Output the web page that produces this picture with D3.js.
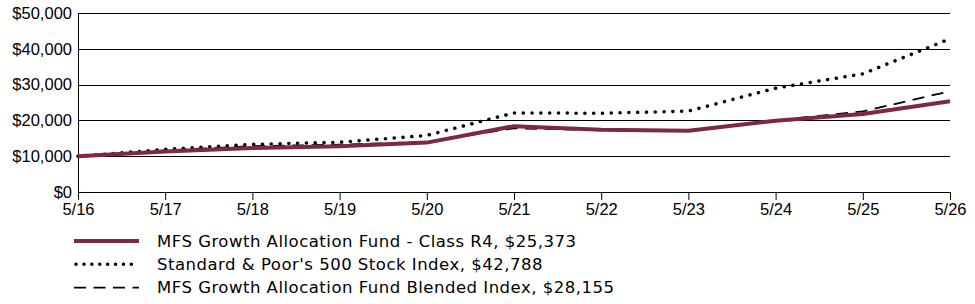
<!DOCTYPE html>
<html>
<head>
<meta charset="utf-8">
<script src="https://cdn.jsdelivr.net/npm/d3@7"></script>
<style>
  body { margin: 0; background: #fff; }
  svg { display: block; font-family: "DejaVu Sans", Verdana, sans-serif; }
  .axis text { font-size: 16.5px; fill: #000; }
  .axis path, .axis line { stroke: #000; }
  .legend text { font-size: 16.5px; letter-spacing: 0.5px; fill: #000; }
</style>
</head>
<body>
<svg id="chart"></svg>
<script>
const years = ["5/16", "5/17", "5/18", "5/19", "5/20", "5/21", "5/22", "5/23", "5/24", "5/25", "5/26"];
const fundValues = [10000, 11300, 12300, 12800, 13800, 18400, 17400, 17100, 19900, 21800, 25373];
const spValues = [10000, 11900, 13300, 13900, 15800, 22100, 22000, 22600, 29000, 33000, 42788];
const blendedValues = [10000, 11600, 12800, 13200, 14000, 17800, 17300, 17000, 20000, 22500, 28155];
const yTicks = [0, 10000, 20000, 30000, 40000, 50000];

const series = [
  { name: "MFS Growth Allocation Fund - Class R4, $25,373", values: fundValues, color: "#7c2b3f", width: 4, dash: null },
  { name: "Standard & Poor's 500 Stock Index, $42,788", values: spValues, color: "#000", width: 3.5, dash: "0.1 8.7" },
  { name: "MFS Growth Allocation Fund Blended Index, $28,155", values: blendedValues, color: "#000", width: 1.8, dash: "12 7.5" }
];

const chartSize = { width: 975, height: 304 };
const margin = { left: 78, right: 25, top: 13, bottom: 112 };
const width = chartSize.width - margin.left - margin.right;
const height = chartSize.height - margin.top - margin.bottom;

const isDotted = s => s.dash && s.dash.startsWith("0.1");

const svg = d3.select("#chart")
  .attr("width", chartSize.width)
  .attr("height", chartSize.height);

const g = svg.append("g").attr("transform", `translate(${margin.left},${margin.top})`);

const x = d3.scalePoint().domain(years).range([0, width]);
const y = d3.scaleLinear().domain([0, 50000]).range([height, 0]);

// gridlines
g.append("g")
  .selectAll("line")
  .data(yTicks.filter(d => d > 0))
  .enter()
  .append("line")
  .attr("x1", 0)
  .attr("x2", width)
  .attr("y1", d => Math.round(y(d)) + 0.5)
  .attr("y2", d => Math.round(y(d)) + 0.5)
  .attr("stroke", "#000")
  .attr("stroke-width", 1);

const yAxis = g.append("g")
  .attr("class", "y axis")
  .call(d3.axisLeft(y).tickValues(yTicks).tickSize(0).tickPadding(6).tickFormat(d => "$" + d3.format(",")(d)));
yAxis.select(".domain").remove();
g.append("line")
  .attr("x1", 0.5).attr("x2", 0.5)
  .attr("y1", 0).attr("y2", height)
  .attr("stroke", "#000");

const xAxis = g.append("g")
  .attr("class", "x axis")
  .attr("transform", `translate(0,${height})`)
  .call(d3.axisBottom(x).tickSize(8).tickPadding(3));
xAxis.select(".domain").attr("d", `M0.5,0.5H${width}`);

const line = d3.line()
  .x((d, i) => x(years[i]))
  .y(d => y(d));

g.selectAll(".series")
  .data(series.slice().reverse())
  .enter()
  .append("path")
  .attr("class", "series")
  .attr("fill", "none")
  .attr("stroke", s => s.color)
  .attr("stroke-width", s => s.width)
  .attr("stroke-dasharray", s => s.dash)
  .attr("stroke-linecap", s => isDotted(s) ? "round" : "butt")
  .attr("stroke-linejoin", "round")
  .attr("d", s => line(s.values));

const legend = svg.append("g")
  .attr("class", "legend")
  .attr("transform", "translate(74,241)");

const rows = legend.selectAll("g")
  .data(series)
  .enter()
  .append("g")
  .attr("transform", (s, i) => `translate(0,${i * 23.3})`);

rows.append("line")
  .attr("x1", s => isDotted(s) ? 2 : 0)
  .attr("x2", 65)
  .attr("y1", 0).attr("y2", 0)
  .attr("stroke", s => s.color)
  .attr("stroke-width", s => s.width)
  .attr("stroke-dasharray", s => isDotted(s) ? "0.1 7.8" : s.dash)
  .attr("stroke-linecap", s => isDotted(s) ? "round" : "butt");

rows.append("text")
  .attr("x", 83)
  .attr("y", 0)
  .attr("dy", "0.35em")
  .text(s => s.name);
</script>
</body>
</html>
